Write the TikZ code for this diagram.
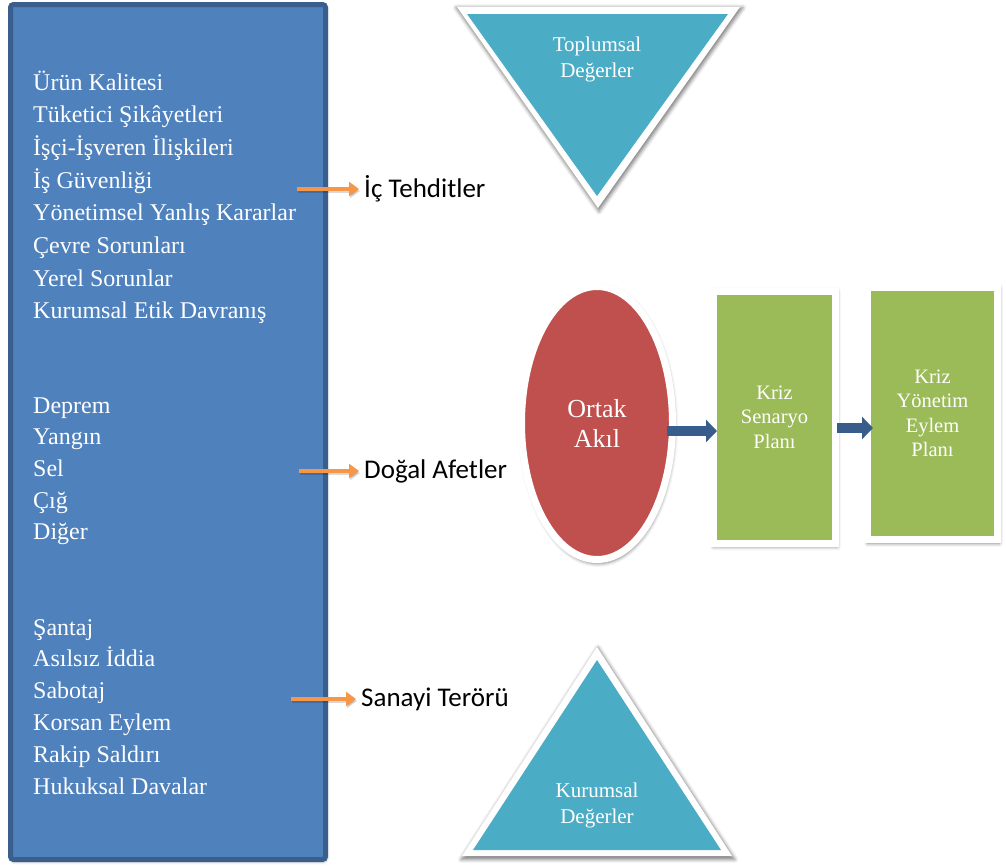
\documentclass[tikz,border=0pt]{standalone}
\usepackage{fontspec}
\setmainfont{Liberation Serif}
\newfontfamily\labelfont{Carlito}
\usetikzlibrary{arrows.meta,shadows.blur,shapes.geometric,calc}

\definecolor{panelblue}{HTML}{4F81BD}
\definecolor{paneledge}{HTML}{3A5F8F}
\definecolor{valueteal}{HTML}{4BACC6}
\definecolor{mindred}{HTML}{C0504D}
\definecolor{plangreen}{HTML}{9BBB59}
\definecolor{threatorange}{HTML}{F79646}
\definecolor{flownavy}{HTML}{385D8A}

\begin{document}
\begin{tikzpicture}[x=1pt,y=-1pt,
  softshadow/.style={blur shadow={shadow xshift=1pt,shadow yshift=-2pt,shadow scale=1.015,shadow blur radius=3.5pt,shadow opacity=50}},
  panel/.style={draw=paneledge,fill=panelblue,line width=5pt,rounded corners=3pt,
    blur shadow={shadow xshift=1pt,shadow yshift=-2pt,shadow blur radius=3pt,shadow opacity=40}},
  listitem/.style={anchor=base west,inner sep=0pt,text=white,font=\fontsize{24}{30}\selectfont},
  threatlabel/.style={anchor=west,inner sep=0pt,font=\labelfont\fontsize{27}{30}\selectfont},
  threatarrow/.style={draw=threatorange,line width=4.5pt,-{Triangle[length=10pt,width=14pt]},shorten >=5pt},
  arrowshade/.style={draw=black,opacity=0.15,line width=4.5pt,-{Triangle[length=10pt,width=14pt]},shorten >=5pt},
  valuetext/.style={align=center,text=white,inner sep=0pt,font=\fontsize{21}{26}\selectfont},
  mind/.style={ellipse,draw=white,line width=7pt,fill=mindred,minimum width=151pt,minimum height=273pt,
    align=center,text=white,inner sep=0pt,font=\fontsize{26}{30}\selectfont,softshadow},
  planbox/.style={rectangle,draw=white,line width=7pt,fill=plangreen,align=center,text=white,inner sep=0pt,
    font=\fontsize{20.5}{24.5}\selectfont,softshadow},
  flowarrow/.style={draw=flownavy,line width=10pt,-{Triangle[length=11pt,width=22pt]}}]
\useasboundingbox (0,0) rectangle (1006,865);

% left panel with the three groups of threats
\node[panel,minimum width=315pt,minimum height=855pt] (panel) at (168,432) {};

\foreach \t [count=\i] in {Ürün Kalitesi,Tüketici Şikâyetleri,İşçi-İşveren İlişkileri,İş Güvenliği,
  Yönetimsel Yanlış Kararlar,Çevre Sorunları,Yerel Sorunlar,Kurumsal Etik Davranış}
  \node[listitem] (inner\i) at (33,{90+(\i-1)*32.7}) {\t};

\foreach \t [count=\i] in {Deprem,Yangın,Sel,Çığ,Diğer}
  \node[listitem] (nature\i) at (33,{413+(\i-1)*31.7}) {\t};

\foreach \t [count=\i] in {Şantaj,Asılsız İddia,Sabotaj,Korsan Eylem,Rakip Saldırı,Hukuksal Davalar}
  \node[listitem] (terror\i) at (33,{635+(\i-1)*31.8}) {\t};

% group labels with their arrows
\coordinate (s1) at (297,189);
\coordinate (s2) at (299,471);
\coordinate (s3) at (291,699);
\node[threatlabel] (lab1) at (364,189) {İç Tehditler};
\node[threatlabel] (lab2) at (364,471) {Doğal Afetler};
\node[threatlabel] (lab3) at (361,699) {Sanayi Terörü};
\foreach \s/\l in {s1/lab1,s2/lab2,s3/lab3} {
  \draw[arrowshade] ($(\s)+(1,2)$) -- ($(\l.west)+(1,2)$);
  \draw[threatarrow] (\s) -- (\l.west);
}

% social values (inverted triangle)
\fill[white,softshadow] (457,7) -- (740,7) -- (598,208) -- cycle;
\fill[valueteal] (467,14) -- (728,14) -- (597,196) -- cycle;
\node[valuetext] (social) at (597,59) {Toplumsal\\Değerler};

% corporate values (triangle)
\fill[white,softshadow] (462,856) -- (732,856) -- (597,647) -- cycle;
\fill[valueteal] (473,850) -- (721,850) -- (597,660) -- cycle;
\node[valuetext] (corporate) at (597,805) {Kurumsal\\Değerler};

% common mind and plans
\node[mind] (mind) at (597,423) {Ortak\\Akıl};
\node[planbox,minimum width=122pt,minimum height=252pt] (scenario) at (774.5,417) {Kriz\\Senaryo\\Planı};
\node[planbox,minimum width=130pt,minimum height=252pt] (action) at (932.5,413.5) {Kriz\\Yönetim\\Eylem\\Planı};

\draw[flowarrow] ($(mind.east)+(-9,8)$) -- ($(scenario.west)+(7,14)$);
\draw[flowarrow] ($(scenario.east)+(-2,11)$) -- ($(action.west)+(9,14.5)$);
\end{tikzpicture}
\end{document}
